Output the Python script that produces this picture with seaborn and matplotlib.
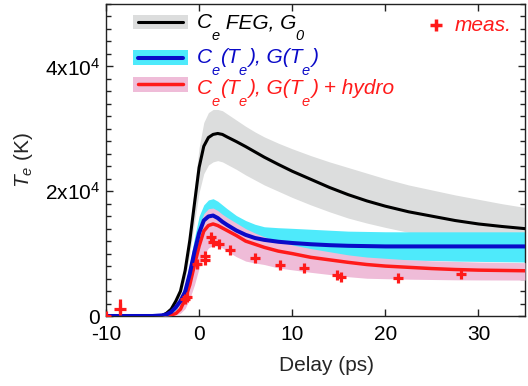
import matplotlib
matplotlib.use("Agg")
import matplotlib.pyplot as plt
from matplotlib.patches import Rectangle
from matplotlib.ticker import MultipleLocator
from matplotlib.transforms import IdentityTransform
import seaborn as sns

# Model curves sampled on a shared delay grid (ps) -> electron temperature (K)
delay = [-10, -5, -4, -3.5, -3, -2.5, -2, -1.5, -1, -0.5, 0, 0.5, 1, 1.5, 2, 2.5, 3,
         4, 5, 6, 7, 8.5, 10, 12, 14, 16, 18, 20, 22.5, 25, 27.5, 30, 32.5, 35]

feg = [0, 0, 50, 450, 1100, 2400, 4000, 7300, 12100, 18000, 23800, 27200, 28600, 29100,
       29250, 29100, 28700, 27950, 27150, 26300, 25450, 24300, 23200, 21900, 20600, 19450,
       18450, 17600, 16700, 16000, 15300, 14750, 14350, 14000]
feg_hi = [0, 0, 60, 500, 1300, 2700, 4600, 8300, 13800, 20500, 27000, 31000, 32600, 33100,
          33100, 32900, 32400, 31400, 30400, 29500, 28700, 27700, 26800, 25700, 24700, 23800,
          22900, 22000, 21000, 20200, 19400, 18700, 18000, 17400]
feg_lo = [0, 0, 40, 350, 900, 1900, 3300, 6000, 10000, 15000, 19800, 22800, 24200, 24700,
          24900, 24700, 24300, 23500, 22600, 21800, 21000, 20000, 19000, 17800, 16700, 15700,
          14900, 14200, 13400, 12800, 12300, 11900, 11600, 11300]

gte = [0, 0, 100, 250, 650, 1400, 2400, 3900, 6800, 10300, 13300, 15300, 15950, 16100,
       15700, 15100, 14600, 13700, 13000, 12500, 12200, 11900, 11700, 11500, 11350, 11250,
       11200, 11150, 11150, 11150, 11150, 11150, 11150, 11150]
gte_hi = [0, 0, 150, 350, 900, 1800, 3100, 5000, 8500, 12500, 16000, 17800, 18600, 18800,
          18400, 17800, 17200, 16100, 15300, 14700, 14300, 14150, 14050, 13900, 13750, 13600,
          13550, 13500, 13490, 13490, 13490, 13490, 13490, 13490]
gte_lo = [0, 0, 50, 150, 450, 1000, 1700, 2900, 5200, 8100, 10800, 12500, 13300, 13500,
          13100, 12500, 12000, 11200, 10600, 10200, 9900, 9600, 9400, 9250, 9150, 9100,
          9050, 9000, 8950, 8900, 8800, 8750, 8700, 8650]

hydro = [0, 0, 0, 50, 150, 400, 1100, 2700, 5000, 8200, 11200, 13600, 14500, 14750,
         14500, 14100, 13700, 12900, 12000, 11500, 11000, 10400, 10000, 9400, 9000, 8600,
         8250, 8000, 7800, 7600, 7450, 7350, 7300, 7250]
hydro_hi = [0, 0, 20, 120, 400, 1000, 2200, 4300, 7500, 11200, 14400, 16400, 17200, 17300,
            16900, 16300, 15800, 14900, 14000, 13300, 12700, 12000, 11400, 10800, 10300, 9800,
            9450, 9250, 9000, 8850, 8750, 8650, 8600, 8550]
hydro_lo = [0, 0, 0, 20, 60, 150, 450, 1200, 2800, 5000, 7700, 9800, 10900, 11300,
            11200, 10900, 10400, 9500, 8800, 8500, 8250, 7700, 7400, 7000, 6650, 6300,
            6050, 5980, 5900, 5850, 5800, 5780, 5770, 5760]

# Measured electron temperatures
meas_delay = [-10, -1.55, -1.35, -0.2, 0.6, 0.65, 1.25, 1.45, 2.1, 3.3, 6.0, 8.65,
              11.25, 14.8, 15.25, 21.4, 28.1]
meas_te = [0, 2800, 3100, 8300, 9600, 8900, 12700, 11900, 11600, 10600, 9300, 8200,
           7650, 6550, 6200, 6100, 6700]
# Early-delay point with a larger asymmetric uncertainty
early_delay = [-8.5]
early_te = [1200]
early_err = [[700], [1600]]

sns.set_theme(style="ticks")
plt.rcParams.update({
    "font.family": ["Liberation Sans", "DejaVu Sans"],
    "mathtext.fontset": "custom",
    "mathtext.rm": "Liberation Sans",
    "mathtext.it": "Liberation Sans:italic",
    "mathtext.bf": "Liberation Sans:bold",
    "axes.unicode_minus": False,
})

GRAY = "#dcdddd"
CYAN = "#4eeafb"
PINK = "#efbcd8"
BLUE = "#0a0ac8"
RED = "#ff1a1a"

fig, ax = plt.subplots(figsize=(5.28, 3.86), dpi=100)
fig.subplots_adjust(left=106 / 528, right=525 / 528, top=1 - 4 / 386, bottom=1 - 316 / 386)

ax.fill_between(delay, feg_lo, feg_hi, color=GRAY, lw=0, zorder=1)
ax.fill_between(delay, gte_lo, gte_hi, color=CYAN, lw=0, zorder=2)
ax.fill_between(delay, hydro_lo, hydro_hi, color=PINK, lw=0, zorder=3)

sns.lineplot(x=delay, y=feg, color="black", lw=2.2, ax=ax, zorder=4)
sns.lineplot(x=delay, y=hydro, color=RED, lw=2.5, ax=ax, zorder=5)
sns.lineplot(x=delay, y=gte, color=BLUE, lw=2.9, ax=ax, zorder=6)

sns.scatterplot(x=meas_delay, y=meas_te, marker="+", s=60, linewidth=2.3,
                color=RED, ax=ax, zorder=8)
ax.errorbar(early_delay, early_te, yerr=early_err, fmt="+", ms=8, mew=2.3,
            elinewidth=2.3, capsize=0, color=RED, zorder=8)

ax.set_xlim(-10, 35)
ax.set_ylim(0, 50000)
ax.set_xticks([-10, 0, 10, 20, 30])
ax.set_xticklabels(["-10", "0", "10", "20", "30"])
ax.set_yticks([0, 20000, 40000])
ax.set_yticklabels(["0", "2x10$^4$", "4x10$^4$"])
ax.yaxis.set_minor_locator(MultipleLocator(2000))
ax.tick_params(axis="both", which="both", direction="in", top=True, right=True,
               colors="#222222", labelcolor="black", labelsize=15)
ax.tick_params(axis="both", which="major", length=5, width=1.0)
ax.tick_params(axis="y", which="minor", length=3.3, width=1.0)
ax.tick_params(axis="x", which="major", pad=6.5)
ax.tick_params(axis="y", which="major", pad=4.5)
for sp in ax.spines.values():
    sp.set_linewidth(1.0)
    sp.set_color("#222222")

ax.set_xlabel("Delay (ps)", fontsize=15)
ax.xaxis.set_label_coords(0.527, -0.128)
ax.set_ylabel("$T_e$ (K)", fontsize=15, labelpad=7)

renderer = fig.canvas.get_renderer()
px_per_pt = fig.dpi / 72.0


def subscripted(x, y, parts, color, size=15):
    """Write italic text with low-set subscripts, part by part, from an axes-fraction baseline."""
    xd, yd = ax.transAxes.transform((x, y))
    for s, sub in parts:
        fs = size * 0.7 if sub else size
        dy = -0.56 * size * px_per_pt if sub else 0.0
        dx = -1.0 if sub else 0.0
        t = ax.text(xd + dx, yd + dy, s, transform=IdentityTransform(), color=color,
                    fontsize=fs, style="italic", va="baseline", ha="left", zorder=10)
        xd = t.get_window_extent(renderer).x1 + (1.0 if sub else 0.0)


# Legend built by hand: shaded band with the model line on top
rows = [
    ([("C", 0), ("e", 1), (" FEG, G", 0), ("0", 1)], GRAY, "black", 2.2, "black", 0.942, 0.922),
    ([("C", 0), ("e", 1), ("(T", 0), ("e", 1), ("), G(T", 0), ("e", 1), (")", 0)],
     CYAN, BLUE, 2.9, BLUE, 0.8285, 0.810),
    ([("C", 0), ("e", 1), ("(T", 0), ("e", 1), ("), G(T", 0), ("e", 1), (") + hydro", 0)],
     PINK, RED, 2.5, RED, 0.742, 0.7115),
]
for parts, band, line, lw, tcol, yc, yb in rows:
    ax.add_patch(Rectangle((0.0644, yc - 0.0225), 0.1313, 0.045, transform=ax.transAxes,
                           color=band, lw=0, zorder=9))
    ax.plot([0.076, 0.184], [yc, yc], transform=ax.transAxes, color=line, lw=lw, zorder=10)
    subscripted(0.217, yb, parts, tcol)

ax.plot([0.788], [0.933], transform=ax.transAxes, marker="+", ms=8, mew=2.5,
        color=RED, zorder=10)
ax.text(0.833, 0.914, "meas.", transform=ax.transAxes, color=RED, fontsize=15,
        style="italic", va="baseline", ha="left", zorder=10)

fig.savefig("out.png", dpi=100)
